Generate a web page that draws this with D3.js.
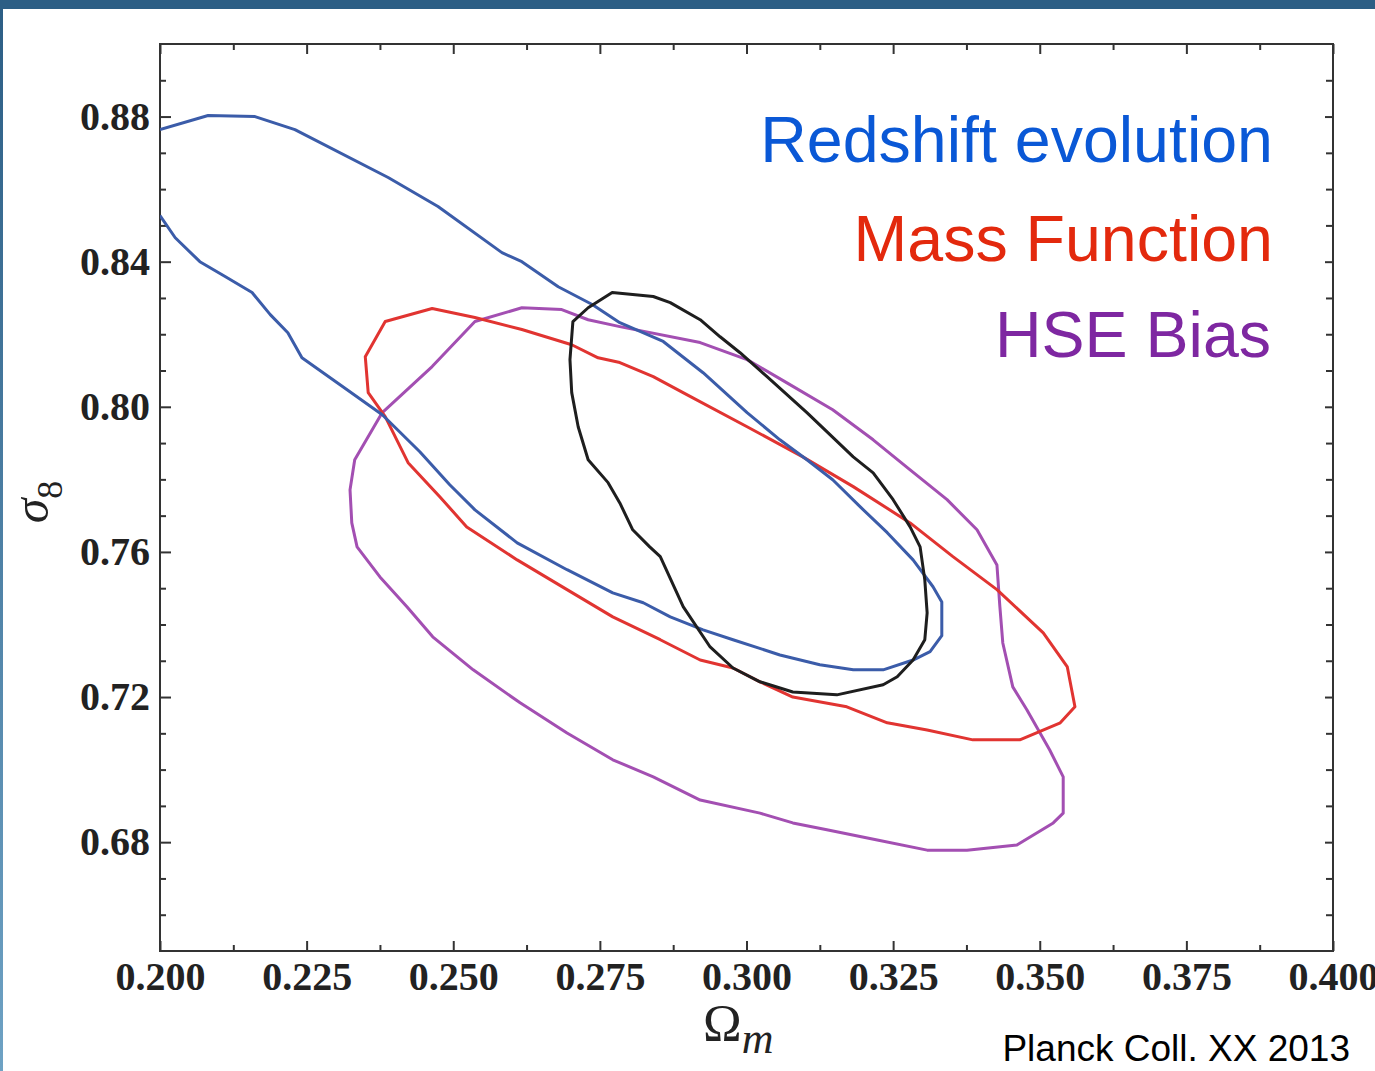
<!DOCTYPE html>
<html>
<head>
<meta charset="utf-8">
<script src="https://cdn.jsdelivr.net/npm/d3@7"></script>
<style>
  html, body { margin: 0; padding: 0; background: #fff; }
  svg { display: block; }
</style>
</head>
<body>
<svg id="chart" width="1375" height="1071"></svg>
<script>
// Confidence contours in the (Omega_m, sigma_8) plane, [Omega_m, sigma_8] pairs.

// Redshift evolution: open contour, runs off the left edge of the plot
const redshiftEvolution = [
  [0.2000,0.8527],[0.2026,0.8466],[0.2068,0.8400],[0.2111,0.8359],[0.2157,0.8315],
  [0.2188,0.8254],[0.2218,0.8204],[0.2242,0.8135],[0.2307,0.8061],[0.2379,0.7978],
  [0.2443,0.7876],[0.2494,0.7785],[0.2537,0.7716],[0.2609,0.7625],[0.2694,0.7551],
  [0.2772,0.7487],[0.2824,0.7460],[0.2870,0.7421],[0.2926,0.7385],[0.2977,0.7358],
  [0.3057,0.7316],[0.3125,0.7289],[0.3182,0.7275],[0.3233,0.7275],[0.3284,0.7302],
  [0.3313,0.7325],[0.3333,0.7369],[0.3333,0.7462],[0.3318,0.7504],[0.3284,0.7578],
  [0.3240,0.7653],[0.3194,0.7724],[0.3147,0.7799],[0.3103,0.7854],[0.3057,0.7909],
  [0.3001,0.7984],[0.2926,0.8094],[0.2858,0.8180],[0.2784,0.8232],[0.2737,0.8282],
  [0.2679,0.8331],[0.2617,0.8400],[0.2583,0.8425],[0.2474,0.8552],[0.2389,0.8632],
  [0.2230,0.8764],[0.2162,0.8800],[0.2082,0.8803],[0.2000,0.8764]
];

// Mass function: closed contour
const massFunction = [
  [0.2350,0.8138],[0.2384,0.8235],[0.2464,0.8271],[0.2537,0.8246],[0.2617,0.8213],
  [0.2702,0.8171],[0.2747,0.8135],[0.2784,0.8122],[0.2841,0.8083],[0.2899,0.8033],
  [0.3001,0.7945],[0.3096,0.7862],[0.3182,0.7780],[0.3279,0.7680],[0.3352,0.7587],
  [0.3427,0.7496],[0.3506,0.7377],[0.3547,0.7283],[0.3560,0.7173],[0.3535,0.7129],
  [0.3466,0.7082],[0.3386,0.7082],[0.3308,0.7109],[0.3240,0.7129],[0.3171,0.7173],
  [0.3079,0.7200],[0.3023,0.7242],[0.2977,0.7280],[0.2921,0.7302],[0.2853,0.7358],
  [0.2772,0.7421],[0.2694,0.7496],[0.2609,0.7578],[0.2523,0.7669],[0.2477,0.7752],
  [0.2423,0.7846],[0.2384,0.7973],[0.2355,0.8039]
];

// Hydrostatic-equilibrium bias: closed contour
const hseBias = [
  [0.2324,0.7771],[0.2332,0.7854],[0.2379,0.7984],[0.2464,0.8111],[0.2537,0.8235],
  [0.2617,0.8273],[0.2685,0.8268],[0.2730,0.8240],[0.2784,0.8221],[0.2921,0.8177],
  [0.3001,0.8130],[0.3069,0.8066],[0.3147,0.7992],[0.3216,0.7909],[0.3279,0.7826],
  [0.3342,0.7744],[0.3393,0.7661],[0.3427,0.7564],[0.3432,0.7449],[0.3437,0.7349],
  [0.3454,0.7228],[0.3478,0.7165],[0.3517,0.7054],[0.3540,0.6980],[0.3540,0.6880],
  [0.3523,0.6853],[0.3461,0.6792],[0.3376,0.6778],[0.3308,0.6778],[0.3223,0.6806],
  [0.3137,0.6834],[0.3079,0.6853],[0.3023,0.6880],[0.2921,0.6916],[0.2841,0.6980],
  [0.2772,0.7027],[0.2694,0.7101],[0.2614,0.7184],[0.2534,0.7275],[0.2465,0.7366],
  [0.2421,0.7449],[0.2375,0.7531],[0.2336,0.7614],[0.2327,0.7680]
];

// Baseline contour: closed
const baseline = [
  [0.2771,0.8315],[0.2841,0.8304],[0.2870,0.8287],[0.2921,0.8240],[0.2955,0.8193],
  [0.2989,0.8149],[0.3035,0.8083],[0.3103,0.7984],[0.3182,0.7862],[0.3216,0.7818],
  [0.3250,0.7744],[0.3279,0.7669],[0.3296,0.7614],[0.3304,0.7523],[0.3308,0.7432],
  [0.3304,0.7358],[0.3284,0.7302],[0.3257,0.7256],[0.3233,0.7234],[0.3154,0.7206],
  [0.3079,0.7214],[0.3023,0.7242],[0.2977,0.7280],[0.2938,0.7338],[0.2892,0.7449],
  [0.2853,0.7587],[0.2835,0.7614],[0.2806,0.7661],[0.2784,0.7735],[0.2764,0.7791],
  [0.2730,0.7854],[0.2713,0.7945],[0.2702,0.8039],[0.2699,0.8130],[0.2704,0.8235],
  [0.2730,0.8273]
];

// Axis ticks and labels
const xMajorTicks = [0.200, 0.225, 0.250, 0.275, 0.300, 0.325, 0.350, 0.375, 0.400];
const xMinorTicks = [0.2125, 0.2375, 0.2625, 0.2875, 0.3125, 0.3375, 0.3625, 0.3875];
const yMajorTicks = [0.68, 0.72, 0.76, 0.80, 0.84, 0.88];
const yMinorTicks = [0.66, 0.67, 0.69, 0.70, 0.71, 0.73, 0.74, 0.75, 0.77, 0.78, 0.79,
                     0.81, 0.82, 0.83, 0.85, 0.86, 0.87, 0.89];

// Legend entries
const legendLabels = ["Redshift evolution", "Mass Function", "HSE Bias"];
const legendColors = ["#0a58d6", "#e3290d", "#7e27a1"];

const svg = d3.select("#chart");
const W = 1375, H = 1071;
const margin = { left: 160, top: 44, right: 42, bottom: 120 };
const pw = W - margin.left - margin.right;   // 1173
const ph = H - margin.top - margin.bottom;   // 907

// Slide frame: dark band along the top, shaded strip down the left side
const defs = svg.append("defs");
const grad = defs.append("linearGradient").attr("id", "sideStrip")
  .attr("x1", 0).attr("y1", 0).attr("x2", 0).attr("y2", 1);
grad.append("stop").attr("offset", "0%").attr("stop-color", "#2c5e85");
grad.append("stop").attr("offset", "100%").attr("stop-color", "#6ea2c4");
svg.append("rect").attr("x", 0).attr("y", 0).attr("width", 3).attr("height", H)
  .attr("fill", "url(#sideStrip)");
svg.append("rect").attr("x", 0).attr("y", 0).attr("width", W).attr("height", 9)
  .attr("fill", "#2c5e85");

defs.append("clipPath").attr("id", "plotClip")
  .append("rect").attr("width", pw).attr("height", ph);

const g = svg.append("g").attr("transform", `translate(${margin.left},${margin.top})`);

const x = d3.scaleLinear().domain([0.2, 0.4]).range([0, pw]);
const y = d3.scaleLinear().domain([0.65, 0.90]).range([ph, 0]);

const axisColor = "#333";
function styleAxis(sel) {
  sel.select(".domain").remove();
  sel.selectAll(".tick line").attr("stroke", axisColor).attr("stroke-width", 2);
  sel.selectAll(".tick text")
    .attr("font-family", "'Liberation Serif', 'Times New Roman', serif")
    .attr("font-weight", "bold")
    .attr("font-size", 40)
    .attr("fill", "#222");
}

// Bottom axis (labelled)
g.append("g").attr("transform", `translate(0,${ph})`)
  .call(d3.axisBottom(x).tickValues(xMajorTicks).tickSize(-10).tickPadding(11)
        .tickFormat(d3.format(".3f")))
  .call(styleAxis);
g.append("g").attr("transform", `translate(0,${ph})`)
  .call(d3.axisBottom(x).tickValues(xMinorTicks).tickSize(-6).tickFormat(""))
  .call(styleAxis);
// Top axis (ticks only)
g.append("g")
  .call(d3.axisTop(x).tickValues(xMajorTicks).tickSize(-10).tickFormat(""))
  .call(styleAxis);
g.append("g")
  .call(d3.axisTop(x).tickValues(xMinorTicks).tickSize(-6).tickFormat(""))
  .call(styleAxis);
// Left axis (labelled)
g.append("g")
  .call(d3.axisLeft(y).tickValues(yMajorTicks).tickSize(-11).tickPadding(10)
        .tickFormat(d3.format(".2f")))
  .call(styleAxis);
g.append("g")
  .call(d3.axisLeft(y).tickValues(yMinorTicks).tickSize(-6).tickFormat(""))
  .call(styleAxis);
// Right axis (ticks only)
g.append("g").attr("transform", `translate(${pw},0)`)
  .call(d3.axisRight(y).tickValues(yMajorTicks).tickSize(-8).tickFormat(""))
  .call(styleAxis);
g.append("g").attr("transform", `translate(${pw},0)`)
  .call(d3.axisRight(y).tickValues(yMinorTicks).tickSize(-7).tickFormat(""))
  .call(styleAxis);

// Plot frame
g.append("rect").attr("width", pw).attr("height", ph)
  .attr("fill", "none").attr("stroke", axisColor).attr("stroke-width", 2);

// Contours
const line = d3.line().x(d => x(d[0])).y(d => y(d[1]));
const curves = g.append("g").attr("clip-path", "url(#plotClip)");
const contourSpecs = [
  { data: hseBias, color: "#a34fb2", closed: true },
  { data: massFunction, color: "#e13431", closed: true },
  { data: redshiftEvolution, color: "#3b5ca9", closed: false },
  { data: baseline, color: "#1e1e1e", closed: true }
];
contourSpecs.forEach(c => {
  curves.append("path")
    .attr("d", line(c.data) + (c.closed ? "Z" : ""))
    .attr("fill", "none")
    .attr("stroke", c.color)
    .attr("stroke-width", 3)
    .attr("stroke-linejoin", "round");
});

// Legend (right-aligned text labels)
const legendBaselines = [162, 261, 357];
legendLabels.forEach((t, i) => {
  svg.append("text")
    .attr("x", i === 2 ? 1271 : 1273)
    .attr("y", legendBaselines[i])
    .attr("text-anchor", "end")
    .attr("font-family", "'Liberation Sans', Arial, Helvetica, sans-serif")
    .attr("font-size", 64.5)
    .attr("fill", legendColors[i])
    .text(t);
});

// Axis titles
const xTitle = svg.append("text")
  .attr("x", 703).attr("y", 1041)
  .attr("font-family", "'Liberation Serif', 'Times New Roman', serif")
  .attr("fill", "#222");
xTitle.append("tspan").attr("font-size", 52).text("Ω");
xTitle.append("tspan").attr("font-size", 44).attr("font-style", "italic")
  .attr("dy", 12).text("m");

const yTitle = svg.append("text")
  .attr("transform", "translate(48,502) rotate(-90)")
  .attr("text-anchor", "middle")
  .attr("font-family", "'Liberation Serif', 'Times New Roman', serif")
  .attr("fill", "#222");
yTitle.append("tspan").attr("font-size", 50).attr("font-style", "italic").text("σ");
yTitle.append("tspan").attr("font-size", 36).attr("dy", 14).text("8");

// Reference note
svg.append("text")
  .attr("x", 1350).attr("y", 1061)
  .attr("text-anchor", "end")
  .attr("font-family", "'Liberation Sans', Arial, Helvetica, sans-serif")
  .attr("font-size", 37)
  .attr("fill", "#000")
  .text("Planck Coll. XX 2013");
</script>
</body>
</html>
